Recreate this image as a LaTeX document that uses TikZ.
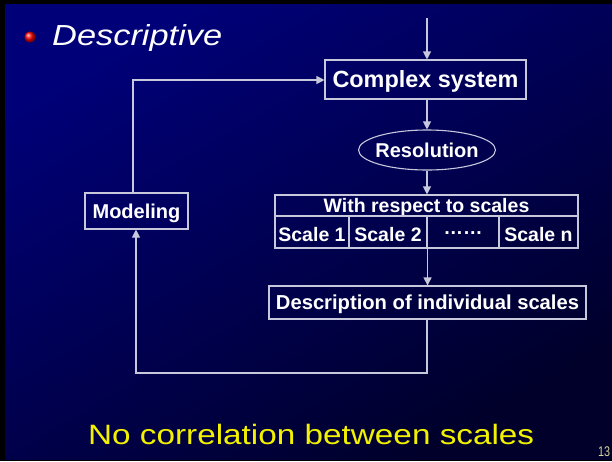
\documentclass[tikz,border=0pt]{standalone}
\usepackage{fontspec}
\setmainfont{Liberation Sans}
\usetikzlibrary{arrows.meta,shapes.geometric}
\definecolor{bgtop}{HTML}{000078}
\definecolor{bgbot}{HTML}{00002A}
\definecolor{edge}{HTML}{C8C8DC}
\definecolor{slideyellow}{HTML}{F2F200}
\definecolor{pagenum}{HTML}{D4D49C}
\newcommand{\fs}[1]{\fontsize{#1}{#1}\selectfont}

\begin{document}
\begin{tikzpicture}[x=1pt,y=-1pt,
  box/.style={draw=edge, line width=1.1pt, text=white, font=\bfseries, inner sep=0pt, text depth=0pt},
  arr/.style={draw=edge, line width=1.1pt, -{Triangle[length=8pt,width=8pt]}},
]
\useasboundingbox (0,0) rectangle (612,461);
% slide background with dark frame
\fill[black] (0,0) rectangle (612,461);
\shade[top color=bgtop, bottom color=bgbot, shading angle=30] (5,4) rectangle (612,459);

% title with bullet
\shade[ball color=red] (30,37) circle (5.6);
\node[anchor=base west, inner sep=0pt, text=white, font=\fs{29}\itshape] (title) at (52,45)
  {\resizebox{170pt}{\height}{Descriptive}};

% main flow
\node[box, minimum width=201pt, minimum height=39pt, text height=16.7pt, font=\bfseries\fs{23.4}] (cs) at (425.5,79.5) {Complex system};
\node[box, shape=ellipse, minimum width=137pt, minimum height=40pt, font=\bfseries\fs{20}] (res) at (427,150)
  {\smash{\raisebox{-7pt}{\makebox[60pt]{Resolution}}}};
\node[box, minimum width=303pt, minimum height=21pt, text height=14pt, font=\bfseries\fs{19.5}] (hdr) at (426.5,205.5) {With respect to scales};
\node[box, minimum width=74pt, minimum height=32pt, text height=19.4pt, font=\bfseries\fs{19.5}] (c1) at (312,232) {Scale 1};
\node[box, minimum width=78pt, minimum height=32pt, text height=19.4pt, font=\bfseries\fs{19.5}] (c2) at (388,232) {Scale 2};
\node[box, minimum width=72pt, minimum height=32pt, text height=19.4pt, font=\bfseries\fs{19.5}] (c3) at (463,232) {\raisebox{7pt}{……}};
\node[box, minimum width=79pt, minimum height=32pt, text height=19.4pt, font=\bfseries\fs{19.5}] (cn) at (538.5,232) {Scale n};
\node[box, minimum width=317pt, minimum height=33pt, text height=14.5pt, font=\bfseries\fs{20.2}] (desc) at (427.5,302.5) {Description of individual scales};
\node[box, minimum width=103pt, minimum height=36pt, text height=14.3pt, font=\bfseries\fs{20}] (mod) at (136.5,211) {Modeling};

% connectors
\coordinate (topin) at (427,18);
\coordinate (lowleft) at (136,373);
\coordinate (upleft) at (133,80);
\draw[arr] (topin) -- (topin |- cs.north);
\draw[arr] (cs.south -| topin) -- (res.north);
\draw[arr] (res.south) -- (hdr.north -| res.south);
\draw[arr] (c2.south east) -- (desc.north -| c2.south east);
\draw[arr] (desc.south -| topin) |- (lowleft) -- (mod.south -| lowleft);
\draw[arr] (mod.north -| upleft) |- (cs.west |- upleft);

% footer
\node[anchor=base west, inner sep=0pt, text=slideyellow, font=\fs{28}] (note) at (88,444)
  {\resizebox{446pt}{\height}{No correlation between scales}};
\node[anchor=base west, inner sep=0pt, text=pagenum, font=\fs{14}] (page) at (598,456)
  {\resizebox{12pt}{\height}{13}};
\end{tikzpicture}
\end{document}
